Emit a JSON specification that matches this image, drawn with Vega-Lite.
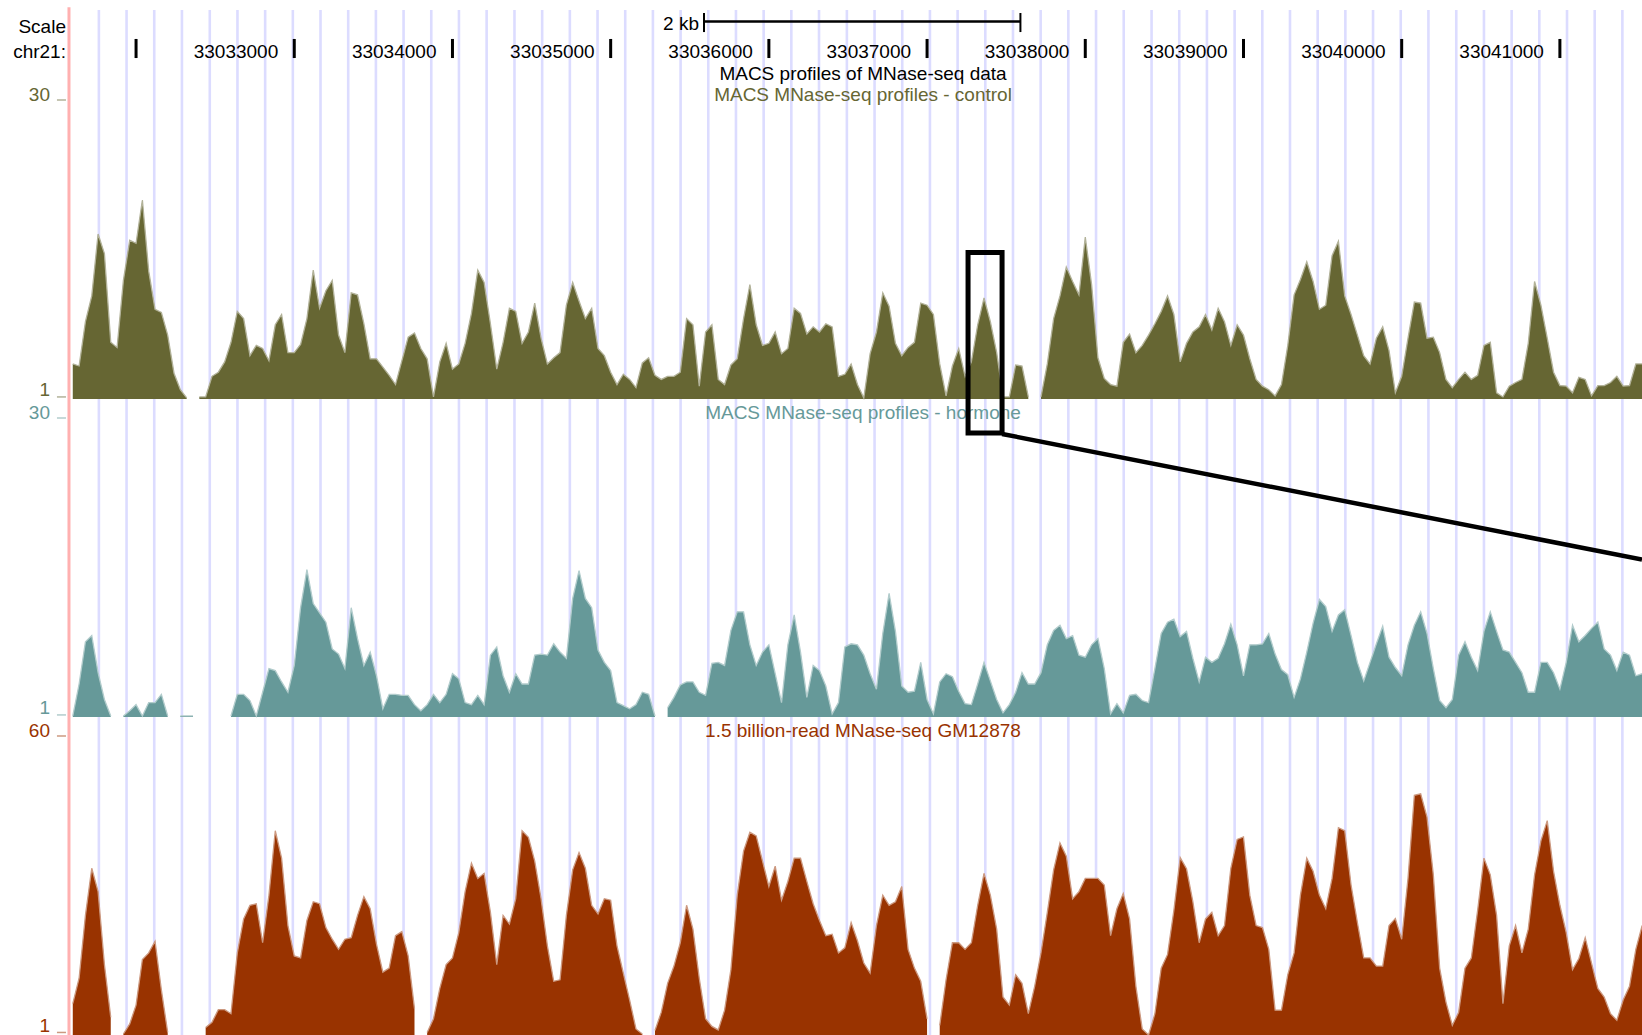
{
"$schema": "https://vega.github.io/schema/vega-lite/v6.json",
"width": 1642, "height": 1035,
"autosize": {"type": "none"},
"padding": 0,
"background": "white",
"config": {"view": {"stroke": null}, "text": {"font": "Liberation Sans", "fontSize": 19}, "axis": {"grid": false}},
"datasets": {
"grid": [{"p":33031765},{"p":33031940},{"p":33032115},{"p":33032290},{"p":33032466},{"p":33032641},{"p":33032816},{"p":33032991},{"p":33033166},{"p":33033341},{"p":33033516},{"p":33033691},{"p":33033866},{"p":33034041},{"p":33034216},{"p":33034392},{"p":33034567},{"p":33034742},{"p":33034917},{"p":33035092},{"p":33035267},{"p":33035442},{"p":33035617},{"p":33035792},{"p":33035967},{"p":33036142},{"p":33036317},{"p":33036493},{"p":33036668},{"p":33036843},{"p":33037018},{"p":33037193},{"p":33037368},{"p":33037543},{"p":33037718},{"p":33037893},{"p":33038068},{"p":33038243},{"p":33038419},{"p":33038594},{"p":33038769},{"p":33038944},{"p":33039119},{"p":33039294},{"p":33039469},{"p":33039644},{"p":33039819},{"p":33039994},{"p":33040169},{"p":33040345},{"p":33040520},{"p":33040695},{"p":33040870},{"p":33041045},{"p":33041220},{"p":33041395}],
"ticks": [{"p":33032000,"t":""},{"p":33033000,"t":"33033000"},{"p":33034000,"t":"33034000"},{"p":33035000,"t":"33035000"},{"p":33036000,"t":"33036000"},{"p":33037000,"t":"33037000"},{"p":33038000,"t":"33038000"},{"p":33039000,"t":"33039000"},{"p":33040000,"t":"33040000"},{"p":33041000,"t":"33041000"}],
"prof": [
{"p":33031600,"c":4.4,"h":1.1,"g":7.2},
{"p":33031640,"c":4.2,"h":4.2,"g":12.2},
{"p":33031680,"c":8.5,"h":8.3,"g":24.6},
{"p":33031720,"c":11,"h":8.9,"g":33.9},
{"p":33031760,"c":17.0,"h":5.3,"g":29.3},
{"p":33031800,"c":15.1,"h":2.7,"g":14.9},
{"p":33031840,"c":6.5,"h":1.1,"g":4.5},
{"p":33031880,"c":6.0,"h":null,"g":null},
{"p":33031920,"c":12.5,"h":1.1,"g":1.2},
{"p":33031960,"c":16.4,"h":1.6,"g":3.2},
{"p":33032000,"c":16.1,"h":2.2,"g":6.9},
{"p":33032040,"c":20.3,"h":1.1,"g":15.9},
{"p":33032080,"c":13.4,"h":2.4,"g":17.2},
{"p":33032120,"c":9.7,"h":2.4,"g":19.5},
{"p":33032160,"c":9.4,"h":3.2,"g":9.9},
{"p":33032200,"c":7.2,"h":1.1,"g":1.5},
{"p":33032240,"c":3.5,"h":null,"g":null},
{"p":33032280,"c":1.9,"h":1.1,"g":null},
{"p":33032320,"c":1.1,"h":1.1,"g":null},
{"p":33032360,"c":null,"h":1.1,"g":null},
{"p":33032400,"c":1.2,"h":null,"g":null},
{"p":33032440,"c":1.2,"h":null,"g":2.5},
{"p":33032480,"c":3.2,"h":null,"g":3.5},
{"p":33032520,"c":3.6,"h":null,"g":6.0},
{"p":33032560,"c":4.6,"h":null,"g":6.0},
{"p":33032600,"c":6.5,"h":1.1,"g":5.2},
{"p":33032640,"c":9.5,"h":3.2,"g":17.2},
{"p":33032680,"c":8.8,"h":3.2,"g":23.9},
{"p":33032720,"c":5.2,"h":2.6,"g":26.6},
{"p":33032760,"c":6.2,"h":1.1,"g":26.9},
{"p":33032800,"c":5.9,"h":3.4,"g":19.2},
{"p":33032840,"c":4.7,"h":5.7,"g":28.6},
{"p":33032880,"c":8.2,"h":5.5,"g":41.3},
{"p":33032920,"c":9.2,"h":4.4,"g":35.9},
{"p":33032960,"c":5.5,"h":3.4,"g":22.6},
{"p":33033000,"c":5.5,"h":6.0,"g":16.6},
{"p":33033040,"c":6.3,"h":11.6,"g":16.2},
{"p":33033080,"c":8.8,"h":15.3,"g":23.6},
{"p":33033120,"c":13.5,"h":12.0,"g":27.3},
{"p":33033160,"c":9.8,"h":11.1,"g":26.9},
{"p":33033200,"c":11.5,"h":10.2,"g":22.2},
{"p":33033240,"c":12.5,"h":7.6,"g":19.9},
{"p":33033280,"c":7.2,"h":7.1,"g":17.9},
{"p":33033320,"c":5.5,"h":5.7,"g":19.9},
{"p":33033360,"c":11.3,"h":11.6,"g":20.2},
{"p":33033400,"c":11.1,"h":8.6,"g":24.6},
{"p":33033440,"c":8.3,"h":6.0,"g":28.3},
{"p":33033480,"c":4.9,"h":7.3,"g":25.9},
{"p":33033520,"c":4.9,"h":5.0,"g":18.9},
{"p":33033560,"c":4.1,"h":1.8,"g":13.4},
{"p":33033600,"c":3.3,"h":3.2,"g":14.2},
{"p":33033640,"c":2.4,"h":3.2,"g":20.6},
{"p":33033680,"c":4.7,"h":3.1,"g":21.4},
{"p":33033720,"c":7.0,"h":3.1,"g":16.6},
{"p":33033760,"c":7.4,"h":2.2,"g":6.2},
{"p":33033800,"c":5.9,"h":1.6,"g":null},
{"p":33033840,"c":4.9,"h":2.2,"g":1.5},
{"p":33033880,"c":1.2,"h":3.2,"g":4.2},
{"p":33033920,"c":4.6,"h":2.4,"g":10.2},
{"p":33033960,"c":6.4,"h":3.2,"g":14.9},
{"p":33034000,"c":3.9,"h":5.2,"g":16.2},
{"p":33034040,"c":4.4,"h":4.7,"g":21.2},
{"p":33034080,"c":6.4,"h":2.4,"g":29.3},
{"p":33034120,"c":9.3,"h":2.2,"g":34.9},
{"p":33034160,"c":13.5,"h":3.1,"g":31.9},
{"p":33034200,"c":12.3,"h":2.2,"g":32.9},
{"p":33034240,"c":8.3,"h":7.0,"g":25.2},
{"p":33034280,"c":3.9,"h":7.8,"g":14.9},
{"p":33034320,"c":6.5,"h":5.0,"g":24.6},
{"p":33034360,"c":9.8,"h":3.4,"g":22.9},
{"p":33034400,"c":9.5,"h":5.2,"g":27.9},
{"p":33034440,"c":6.4,"h":4.2,"g":41.3},
{"p":33034480,"c":7.5,"h":4.2,"g":40.0},
{"p":33034520,"c":10.3,"h":7.0,"g":35.3},
{"p":33034560,"c":6.9,"h":7.1,"g":27.9},
{"p":33034600,"c":4.4,"h":7.0,"g":18.6},
{"p":33034640,"c":5.0,"h":8.1,"g":11.6},
{"p":33034680,"c":5.5,"h":7.3,"g":11.9},
{"p":33034720,"c":10.1,"h":6.7,"g":24.6},
{"p":33034760,"c":12.3,"h":12.5,"g":33.6},
{"p":33034800,"c":10.5,"h":15.2,"g":37.0},
{"p":33034840,"c":8.8,"h":12.5,"g":33.9},
{"p":33034880,"c":9.8,"h":11.6,"g":26.6},
{"p":33034920,"c":5.9,"h":7.5,"g":24.9},
{"p":33034960,"c":5.2,"h":6.3,"g":27.9},
{"p":33035000,"c":3.6,"h":5.5,"g":27.6},
{"p":33035040,"c":2.4,"h":2.4,"g":18.6},
{"p":33035080,"c":3.4,"h":2.1,"g":13.2},
{"p":33035120,"c":2.9,"h":1.8,"g":7.9},
{"p":33035160,"c":2.1,"h":2.2,"g":2.2},
{"p":33035200,"c":4.5,"h":3.4,"g":1.2},
{"p":33035240,"c":5.0,"h":3.2,"g":null},
{"p":33035280,"c":3.3,"h":1.1,"g":1.9},
{"p":33035320,"c":2.9,"h":null,"g":5.5},
{"p":33035360,"c":3.2,"h":1.9,"g":11.2},
{"p":33035400,"c":3.2,"h":2.9,"g":14.6},
{"p":33035440,"c":3.6,"h":4.1,"g":19.2},
{"p":33035480,"c":8.8,"h":4.4,"g":26.6},
{"p":33035520,"c":8.2,"h":4.4,"g":21.9},
{"p":33035560,"c":2.25,"h":3.4,"g":12.2},
{"p":33035600,"c":7.5,"h":3.1,"g":4.2},
{"p":33035640,"c":8.2,"h":6.2,"g":2.7},
{"p":33035680,"c":2.9,"h":6.3,"g":2.0},
{"p":33035720,"c":2.4,"h":6.0,"g":5.9},
{"p":33035760,"c":4.3,"h":9.4,"g":13.9},
{"p":33035800,"c":4.9,"h":11.2,"g":28.6},
{"p":33035840,"c":8.8,"h":11.2,"g":37.3},
{"p":33035880,"c":12.1,"h":8.0,"g":41.0},
{"p":33035920,"c":8.2,"h":6.0,"g":40.3},
{"p":33035960,"c":6.2,"h":7.3,"g":35.3},
{"p":33036000,"c":6.4,"h":8.0,"g":30.3},
{"p":33036040,"c":7.5,"h":5.2,"g":34.3},
{"p":33036080,"c":5.4,"h":2.4,"g":27.6},
{"p":33036120,"c":5.9,"h":8.0,"g":31.3},
{"p":33036160,"c":9.8,"h":10.9,"g":35.9},
{"p":33036200,"c":9.3,"h":7.3,"g":35.9},
{"p":33036240,"c":7.3,"h":2.9,"g":31.3},
{"p":33036280,"c":8.0,"h":6.0,"g":26.9},
{"p":33036320,"c":7.5,"h":5.5,"g":23.6},
{"p":33036360,"c":8.3,"h":4.0,"g":20.6},
{"p":33036400,"c":8.0,"h":1.3,"g":20.9},
{"p":33036440,"c":3.2,"h":2.4,"g":17.2},
{"p":33036480,"c":3.4,"h":7.8,"g":18.2},
{"p":33036520,"c":4.4,"h":8.1,"g":23.2},
{"p":33036560,"c":2.4,"h":8.0,"g":19.6},
{"p":33036600,"c":1.1,"h":7.0,"g":15.2},
{"p":33036640,"c":5.4,"h":5.2,"g":13.2},
{"p":33036680,"c":7.5,"h":3.7,"g":22.6},
{"p":33036720,"c":11.3,"h":9.1,"g":28.6},
{"p":33036760,"c":10.0,"h":13.0,"g":26.6},
{"p":33036800,"c":6.4,"h":9.3,"g":27.3},
{"p":33036840,"c":5.2,"h":4.0,"g":30.3},
{"p":33036880,"c":6.0,"h":3.4,"g":17.9},
{"p":33036920,"c":6.5,"h":3.5,"g":14.2},
{"p":33036960,"c":10.3,"h":6.3,"g":11.6},
{"p":33037000,"c":10.1,"h":2.7,"g":4.2},
{"p":33037040,"c":9.2,"h":1.3,"g":null},
{"p":33037080,"c":4.4,"h":4.4,"g":2.9},
{"p":33037120,"c":1.3,"h":5.2,"g":11.9},
{"p":33037160,"c":4.2,"h":4.9,"g":19.2},
{"p":33037200,"c":5.9,"h":3.5,"g":19.2},
{"p":33037240,"c":3.2,"h":2.3,"g":17.9},
{"p":33037280,"c":4.6,"h":2.2,"g":19.2},
{"p":33037320,"c":8.2,"h":4.2,"g":26.6},
{"p":33037360,"c":10.8,"h":6.3,"g":32.9},
{"p":33037400,"c":8.5,"h":4.5,"g":28.6},
{"p":33037440,"c":5.5,"h":2.7,"g":21.9},
{"p":33037480,"c":1.2,"h":1.4,"g":8.5},
{"p":33037520,"c":1.2,"h":2.2,"g":6.9},
{"p":33037560,"c":4.3,"h":3.4,"g":12.9},
{"p":33037600,"c":4.2,"h":5.3,"g":11.2},
{"p":33037640,"c":1.2,"h":4.2,"g":5.2},
{"p":33037680,"c":null,"h":4.2,"g":10.6},
{"p":33037720,"c":1.2,"h":5.3,"g":17.2},
{"p":33037760,"c":4.4,"h":8.0,"g":25.2},
{"p":33037800,"c":8.8,"h":9.4,"g":33.6},
{"p":33037840,"c":11.0,"h":9.9,"g":38.9},
{"p":33037880,"c":13.8,"h":8.6,"g":36.3},
{"p":33037920,"c":12.4,"h":8.9,"g":27.9},
{"p":33037960,"c":11.1,"h":7.0,"g":29.3},
{"p":33038000,"c":16.7,"h":6.8,"g":31.9},
{"p":33038040,"c":12.1,"h":8.0,"g":31.9},
{"p":33038080,"c":5.0,"h":8.6,"g":31.9},
{"p":33038120,"c":3.0,"h":5.7,"g":30.6},
{"p":33038160,"c":2.4,"h":1.3,"g":20.6},
{"p":33038200,"c":2.25,"h":2.3,"g":25.9},
{"p":33038240,"c":6.5,"h":1.4,"g":28.9},
{"p":33038280,"c":7.3,"h":3.1,"g":23.9},
{"p":33038320,"c":5.5,"h":3.2,"g":10.6},
{"p":33038360,"c":6.2,"h":2.6,"g":2.2},
{"p":33038400,"c":7.2,"h":2.4,"g":1.0},
{"p":33038440,"c":8.3,"h":5.7,"g":5.2},
{"p":33038480,"c":9.5,"h":9.1,"g":14.2},
{"p":33038520,"c":11.0,"h":10.2,"g":16.9},
{"p":33038560,"c":9.2,"h":10.5,"g":25.6},
{"p":33038600,"c":4.6,"h":8.8,"g":36},
{"p":33038640,"c":6.4,"h":9.3,"g":33.8},
{"p":33038680,"c":7.5,"h":6.7,"g":27.3},
{"p":33038720,"c":8.0,"h":4.4,"g":19.2},
{"p":33038760,"c":9.2,"h":6.8,"g":23.9},
{"p":33038800,"c":7.7,"h":6.3,"g":25.2},
{"p":33038840,"c":9.8,"h":6.7,"g":20.6},
{"p":33038880,"c":8.5,"h":8.1,"g":22.6},
{"p":33038920,"c":6.2,"h":10.0,"g":33.9},
{"p":33038960,"c":8.2,"h":8.0,"g":39.6},
{"p":33039000,"c":7.2,"h":5.0,"g":40.1},
{"p":33039040,"c":4.9,"h":8.0,"g":28.6},
{"p":33039080,"c":2.9,"h":8.0,"g":22.6},
{"p":33039120,"c":2.25,"h":8.1,"g":22.2},
{"p":33039160,"c":1.9,"h":9.1,"g":17.9},
{"p":33039200,"c":1.3,"h":7.1,"g":5.9},
{"p":33039240,"c":2.4,"h":5.6,"g":5.9},
{"p":33039280,"c":6.2,"h":5.1,"g":12.9},
{"p":33039320,"c":11.1,"h":2.9,"g":17.2},
{"p":33039360,"c":12.6,"h":4.7,"g":28.6},
{"p":33039400,"c":14.3,"h":7.3,"g":35.9},
{"p":33039440,"c":12.4,"h":10.1,"g":33.3},
{"p":33039480,"c":9.7,"h":12.4,"g":28.6},
{"p":33039520,"c":10.1,"h":11.7,"g":25.9},
{"p":33039560,"c":14.9,"h":9.3,"g":31.9},
{"p":33039600,"c":16.3,"h":10.9,"g":41.9},
{"p":33039640,"c":11.0,"h":11.4,"g":41.3},
{"p":33039680,"c":9.2,"h":8.9,"g":30.6},
{"p":33039720,"c":7.2,"h":6.3,"g":23.2},
{"p":33039760,"c":5.2,"h":4.5,"g":16.2},
{"p":33039800,"c":4.4,"h":6.3,"g":16.2},
{"p":33039840,"c":6.9,"h":8.1,"g":14.6},
{"p":33039880,"c":8.0,"h":9.8,"g":14.6},
{"p":33039920,"c":5.7,"h":6.8,"g":22.6},
{"p":33039960,"c":1.6,"h":5.8,"g":24.0},
{"p":33040000,"c":3.2,"h":5.0,"g":19.9},
{"p":33040040,"c":6.9,"h":8.0,"g":31.9},
{"p":33040080,"c":10.4,"h":9.9,"g":48.3},
{"p":33040120,"c":10.3,"h":11.2,"g":48.6},
{"p":33040160,"c":6.9,"h":9.1,"g":44.0},
{"p":33040200,"c":7.0,"h":5.7,"g":32.6},
{"p":33040240,"c":5.5,"h":2.6,"g":14.2},
{"p":33040280,"c":2.9,"h":1.9,"g":7.5},
{"p":33040320,"c":2.1,"h":2.7,"g":2.9},
{"p":33040360,"c":2.9,"h":7.0,"g":5.5},
{"p":33040400,"c":3.6,"h":8.3,"g":14.2},
{"p":33040440,"c":2.9,"h":6.8,"g":16.2},
{"p":33040480,"c":3.3,"h":5.5,"g":25.6},
{"p":33040520,"c":6.2,"h":9.3,"g":35.9},
{"p":33040560,"c":6.5,"h":11.2,"g":32.6},
{"p":33040600,"c":1.6,"h":9.3,"g":24.6},
{"p":33040640,"c":1.2,"h":7.5,"g":7.2},
{"p":33040680,"c":2.25,"h":7.3,"g":18.6},
{"p":33040720,"c":2.6,"h":6.3,"g":22.6},
{"p":33040760,"c":2.9,"h":5.3,"g":17.2},
{"p":33040800,"c":6.4,"h":3.4,"g":21.9},
{"p":33040840,"c":12.4,"h":3.4,"g":32.6},
{"p":33040880,"c":10.1,"h":6.3,"g":39.3},
{"p":33040920,"c":6.9,"h":6.3,"g":43.3},
{"p":33040960,"c":3.6,"h":5.3,"g":33.3},
{"p":33041000,"c":2.3,"h":3.7,"g":26.6},
{"p":33041040,"c":2.25,"h":6.3,"g":21.2},
{"p":33041080,"c":1.6,"h":9.9,"g":13.9},
{"p":33041120,"c":3.1,"h":8.3,"g":16.1},
{"p":33041160,"c":2.9,"h":8.9,"g":20.2},
{"p":33041200,"c":1.3,"h":9.6,"g":15.2},
{"p":33041240,"c":2.3,"h":10.2,"g":10.2},
{"p":33041280,"c":2.3,"h":7.6,"g":8.5},
{"p":33041320,"c":2.6,"h":7.0,"g":5.2},
{"p":33041360,"c":3.2,"h":5.5,"g":3.9},
{"p":33041400,"c":2.25,"h":7.3,"g":7.9},
{"p":33041440,"c":2.3,"h":7.0,"g":10.6},
{"p":33041480,"c":4.4,"h":5.0,"g":17.9},
{"p":33041520,"c":4.4,"h":5.2,"g":22.6}
]
},
"resolve": {"scale": {"y": "independent"}},
"layer": [
{
"layer": [
{"data": {"name": "grid"}, "mark": {"type": "rule", "color": "#dcdcff", "strokeWidth": 2.6},
 "encoding": {"x": {"field": "p", "type": "quantitative", "scale": {"domain": [33031140, 33041519], "nice": false, "zero": false}, "axis": null},
  "y": {"datum": 38.73, "type": "quantitative", "scale": {"domain": [-60.686, 39.699], "nice": false, "zero": false}, "axis": null}, "y2": {"datum": -60.686}}},
{"data": {"values": [{}]}, "mark": {"type": "rule", "color": "#ffb0b0", "strokeWidth": 3},
 "encoding": {"x": {"datum": 33031576, "type": "quantitative", "scale": {"domain": [33031140, 33041519], "nice": false, "zero": false}, "axis": null},
  "y": {"datum": 39.0, "type": "quantitative", "scale": {"domain": [-60.686, 39.699], "nice": false, "zero": false}, "axis": null}, "y2": {"datum": -60.686}}},
{"data": {"name": "ticks"}, "mark": {"type": "rule", "color": "black", "strokeWidth": 3},
 "encoding": {"x": {"field": "p", "type": "quantitative", "scale": {"domain": [33031140, 33041519], "nice": false, "zero": false}, "axis": null},
  "y": {"datum": 35.92, "type": "quantitative", "scale": {"domain": [-60.686, 39.699], "nice": false, "zero": false}, "axis": null}, "y2": {"datum": 34.07}}},
{"data": {"name": "ticks"}, "mark": {"type": "text", "align": "right", "baseline": "middle", "dx": -16, "dy": 1.5, "color": "black"},
 "encoding": {"x": {"field": "p", "type": "quantitative", "scale": {"domain": [33031140, 33041519], "nice": false, "zero": false}, "axis": null},
  "y": {"datum": 34.82, "type": "quantitative", "scale": {"domain": [-60.686, 39.699], "nice": false, "zero": false}, "axis": null}, "text": {"field": "t"}}},
{"data": {"values": [{"v": 37.26, "t": "Scale"}, {"v": 34.82, "t": "chr21:"}]}, "mark": {"type": "text", "align": "right", "baseline": "middle", "dy": 1.5, "color": "black"},
 "encoding": {"x": {"datum": 33031557, "type": "quantitative", "scale": {"domain": [33031140, 33041519], "nice": false, "zero": false}, "axis": null},
  "y": {"field": "v", "type": "quantitative", "scale": {"domain": [-60.686, 39.699], "nice": false, "zero": false}, "axis": null}, "text": {"field": "t"}}},
{"data": {"values": [{}]}, "mark": {"type": "text", "align": "right", "baseline": "middle", "dx": -5, "dy": 1, "color": "black", "text": "2 kb"},
 "encoding": {"x": {"datum": 33035590, "type": "quantitative", "scale": {"domain": [33031140, 33041519], "nice": false, "zero": false}, "axis": null},
  "y": {"datum": 37.47, "type": "quantitative", "scale": {"domain": [-60.686, 39.699], "nice": false, "zero": false}, "axis": null}}},
{"data": {"values": [{}]}, "mark": {"type": "rule", "color": "black", "strokeWidth": 2.5},
 "encoding": {"x": {"datum": 33035590, "type": "quantitative", "scale": {"domain": [33031140, 33041519], "nice": false, "zero": false}, "axis": null}, "x2": {"datum": 33037590},
  "y": {"datum": 37.61, "type": "quantitative", "scale": {"domain": [-60.686, 39.699], "nice": false, "zero": false}, "axis": null}}},
{"data": {"values": [{"p": 33035590}, {"p": 33037590}]}, "mark": {"type": "rule", "color": "black", "strokeWidth": 2},
 "encoding": {"x": {"field": "p", "type": "quantitative", "scale": {"domain": [33031140, 33041519], "nice": false, "zero": false}, "axis": null},
  "y": {"datum": 38.44, "type": "quantitative", "scale": {"domain": [-60.686, 39.699], "nice": false, "zero": false}, "axis": null}, "y2": {"datum": 36.59}}},
{"data": {"values": [{}]}, "mark": {"type": "text", "align": "center", "baseline": "middle", "dy": 1.5, "color": "black", "text": "MACS profiles of MNase-seq data"},
 "encoding": {"x": {"datum": 33036595, "type": "quantitative", "scale": {"domain": [33031140, 33041519], "nice": false, "zero": false}, "axis": null},
  "y": {"datum": 32.62, "type": "quantitative", "scale": {"domain": [-60.686, 39.699], "nice": false, "zero": false}, "axis": null}}},
{"data": {"values": [{}]}, "mark": {"type": "text", "align": "center", "baseline": "middle", "dy": 1, "color": "#666633", "text": "MACS MNase-seq profiles - control"},
 "encoding": {"x": {"datum": 33036595, "type": "quantitative", "scale": {"domain": [33031140, 33041519], "nice": false, "zero": false}, "axis": null},
  "y": {"datum": 30.58, "type": "quantitative", "scale": {"domain": [-60.686, 39.699], "nice": false, "zero": false}, "axis": null}}},
{"data": {"name": "prof"}, "mark": {"type": "area", "color": "#666633", "invalid": "break-paths-filter-domains"},
 "encoding": {"x": {"field": "p", "type": "quantitative", "scale": {"domain": [33031140, 33041519], "nice": false, "zero": false}, "axis": null},
  "y": {"field": "c", "type": "quantitative", "scale": {"domain": [-60.686, 39.699], "nice": false, "zero": false}, "axis": null}, "y2": {"datum": 1}}},
{"data": {"name": "prof"}, "mark": {"type": "line", "color": "#b2b299", "strokeWidth": 1.3, "invalid": "break-paths-filter-domains"},
 "encoding": {"x": {"field": "p", "type": "quantitative", "scale": {"domain": [33031140, 33041519], "nice": false, "zero": false}, "axis": null},
  "y": {"field": "c", "type": "quantitative", "scale": {"domain": [-60.686, 39.699], "nice": false, "zero": false}, "axis": null}}},
{"data": {"values": [{"v": 30, "t": "30"}]}, "mark": {"type": "text", "align": "right", "baseline": "alphabetic", "dy": 1, "color": "#666633"},
 "encoding": {"x": {"datum": 33031456, "type": "quantitative", "scale": {"domain": [33031140, 33041519], "nice": false, "zero": false}, "axis": null},
  "y": {"field": "v", "type": "quantitative", "scale": {"domain": [-60.686, 39.699], "nice": false, "zero": false}, "axis": null}, "text": {"field": "t"}}},
{"data": {"values": [{"v": 1, "t": "1"}]}, "mark": {"type": "text", "align": "right", "baseline": "alphabetic", "dy": -3, "color": "#666633"},
 "encoding": {"x": {"datum": 33031456, "type": "quantitative", "scale": {"domain": [33031140, 33041519], "nice": false, "zero": false}, "axis": null},
  "y": {"field": "v", "type": "quantitative", "scale": {"domain": [-60.686, 39.699], "nice": false, "zero": false}, "axis": null}, "text": {"field": "t"}}},
{"data": {"values": [{"v": 30}, {"v": 1.2}]}, "mark": {"type": "rule", "color": "#b2b299", "strokeWidth": 1.5},
 "encoding": {"x": {"datum": 33031500, "type": "quantitative", "scale": {"domain": [33031140, 33041519], "nice": false, "zero": false}, "axis": null}, "x2": {"datum": 33031557},
  "y": {"field": "v", "type": "quantitative", "scale": {"domain": [-60.686, 39.699], "nice": false, "zero": false}, "axis": null}}}
]
},
{
"layer": [
{"data": {"values": [{}]}, "mark": {"type": "text", "align": "center", "baseline": "middle", "color": "#669999", "text": "MACS MNase-seq profiles - hormone"},
 "encoding": {"x": {"datum": 33036595, "type": "quantitative", "scale": {"domain": [33031140, 33041519], "nice": false, "zero": false}, "axis": null},
  "y": {"datum": 30.52, "type": "quantitative", "scale": {"domain": [-29.843, 70.542], "nice": false, "zero": false}, "axis": null}}},
{"data": {"name": "prof"}, "mark": {"type": "area", "color": "#669999", "invalid": "break-paths-filter-domains"},
 "encoding": {"x": {"field": "p", "type": "quantitative", "scale": {"domain": [33031140, 33041519], "nice": false, "zero": false}, "axis": null},
  "y": {"field": "h", "type": "quantitative", "scale": {"domain": [-29.843, 70.542], "nice": false, "zero": false}, "axis": null}, "y2": {"datum": 1}}},
{"data": {"name": "prof"}, "mark": {"type": "line", "color": "#b2cccc", "strokeWidth": 1.3, "invalid": "break-paths-filter-domains"},
 "encoding": {"x": {"field": "p", "type": "quantitative", "scale": {"domain": [33031140, 33041519], "nice": false, "zero": false}, "axis": null},
  "y": {"field": "h", "type": "quantitative", "scale": {"domain": [-29.843, 70.542], "nice": false, "zero": false}, "axis": null}}},
{"data": {"values": [{"v": 30, "t": "30"}]}, "mark": {"type": "text", "align": "right", "baseline": "alphabetic", "dy": 1, "color": "#669999"},
 "encoding": {"x": {"datum": 33031456, "type": "quantitative", "scale": {"domain": [33031140, 33041519], "nice": false, "zero": false}, "axis": null},
  "y": {"field": "v", "type": "quantitative", "scale": {"domain": [-29.843, 70.542], "nice": false, "zero": false}, "axis": null}, "text": {"field": "t"}}},
{"data": {"values": [{"v": 1, "t": "1"}]}, "mark": {"type": "text", "align": "right", "baseline": "alphabetic", "dy": -3, "color": "#669999"},
 "encoding": {"x": {"datum": 33031456, "type": "quantitative", "scale": {"domain": [33031140, 33041519], "nice": false, "zero": false}, "axis": null},
  "y": {"field": "v", "type": "quantitative", "scale": {"domain": [-29.843, 70.542], "nice": false, "zero": false}, "axis": null}, "text": {"field": "t"}}},
{"data": {"values": [{"v": 30}, {"v": 1.2}]}, "mark": {"type": "rule", "color": "#b2cccc", "strokeWidth": 1.5},
 "encoding": {"x": {"datum": 33031500, "type": "quantitative", "scale": {"domain": [33031140, 33041519], "nice": false, "zero": false}, "axis": null}, "x2": {"datum": 33031557},
  "y": {"field": "v", "type": "quantitative", "scale": {"domain": [-29.843, 70.542], "nice": false, "zero": false}, "axis": null}}}
]
},
{
"layer": [
{"data": {"values": [{}]}, "mark": {"type": "text", "align": "center", "baseline": "middle", "color": "#993300", "text": "1.5 billion-read MNase-seq GM12878"},
 "encoding": {"x": {"datum": 33036595, "type": "quantitative", "scale": {"domain": [33031140, 33041519], "nice": false, "zero": false}, "axis": null},
  "y": {"datum": 60.99, "type": "quantitative", "scale": {"domain": [1, 205.23], "nice": false, "zero": false}, "axis": null}}},
{"data": {"name": "prof"}, "mark": {"type": "area", "color": "#993300", "invalid": "break-paths-filter-domains"},
 "encoding": {"x": {"field": "p", "type": "quantitative", "scale": {"domain": [33031140, 33041519], "nice": false, "zero": false}, "axis": null},
  "y": {"field": "g", "type": "quantitative", "scale": {"domain": [1, 205.23], "nice": false, "zero": false}, "axis": null}, "y2": {"datum": 1}}},
{"data": {"name": "prof"}, "mark": {"type": "line", "color": "#cc9980", "strokeWidth": 1.3, "invalid": "break-paths-filter-domains"},
 "encoding": {"x": {"field": "p", "type": "quantitative", "scale": {"domain": [33031140, 33041519], "nice": false, "zero": false}, "axis": null},
  "y": {"field": "g", "type": "quantitative", "scale": {"domain": [1, 205.23], "nice": false, "zero": false}, "axis": null}}},
{"data": {"values": [{"v": 60, "t": "60"}]}, "mark": {"type": "text", "align": "right", "baseline": "alphabetic", "dy": 1, "color": "#993300"},
 "encoding": {"x": {"datum": 33031456, "type": "quantitative", "scale": {"domain": [33031140, 33041519], "nice": false, "zero": false}, "axis": null},
  "y": {"field": "v", "type": "quantitative", "scale": {"domain": [1, 205.23], "nice": false, "zero": false}, "axis": null}, "text": {"field": "t"}}},
{"data": {"values": [{"v": 1, "t": "1"}]}, "mark": {"type": "text", "align": "right", "baseline": "alphabetic", "dy": -3, "color": "#993300"},
 "encoding": {"x": {"datum": 33031456, "type": "quantitative", "scale": {"domain": [33031140, 33041519], "nice": false, "zero": false}, "axis": null},
  "y": {"field": "v", "type": "quantitative", "scale": {"domain": [1, 205.23], "nice": false, "zero": false}, "axis": null}, "text": {"field": "t"}}},
{"data": {"values": [{"v": 60}, {"v": 1.5}]}, "mark": {"type": "rule", "color": "#cc9980", "strokeWidth": 1.5},
 "encoding": {"x": {"datum": 33031500, "type": "quantitative", "scale": {"domain": [33031140, 33041519], "nice": false, "zero": false}, "axis": null}, "x2": {"datum": 33031557},
  "y": {"field": "v", "type": "quantitative", "scale": {"domain": [1, 205.23], "nice": false, "zero": false}, "axis": null}}}
]
},
{
"layer": [
{"data": {"values": [{}]}, "mark": {"type": "rect", "fillOpacity": 0, "stroke": "black", "strokeWidth": 5},
 "encoding": {"x": {"datum": 33037259, "type": "quantitative", "scale": {"domain": [33031140, 33041519], "nice": false, "zero": false}, "axis": null}, "x2": {"datum": 33037474},
  "y": {"datum": 15.21, "type": "quantitative", "scale": {"domain": [-60.686, 39.699], "nice": false, "zero": false}, "axis": null}, "y2": {"datum": -2.30}}},
{"data": {"values": [{}]}, "mark": {"type": "rule", "color": "black", "strokeWidth": 4.5},
 "encoding": {"x": {"datum": 33037474, "type": "quantitative", "scale": {"domain": [33031140, 33041519], "nice": false, "zero": false}, "axis": null}, "x2": {"datum": 33041519},
  "y": {"datum": -2.39, "type": "quantitative", "scale": {"domain": [-60.686, 39.699], "nice": false, "zero": false}, "axis": null}, "y2": {"datum": -14.57}}}
]
}
]
}
